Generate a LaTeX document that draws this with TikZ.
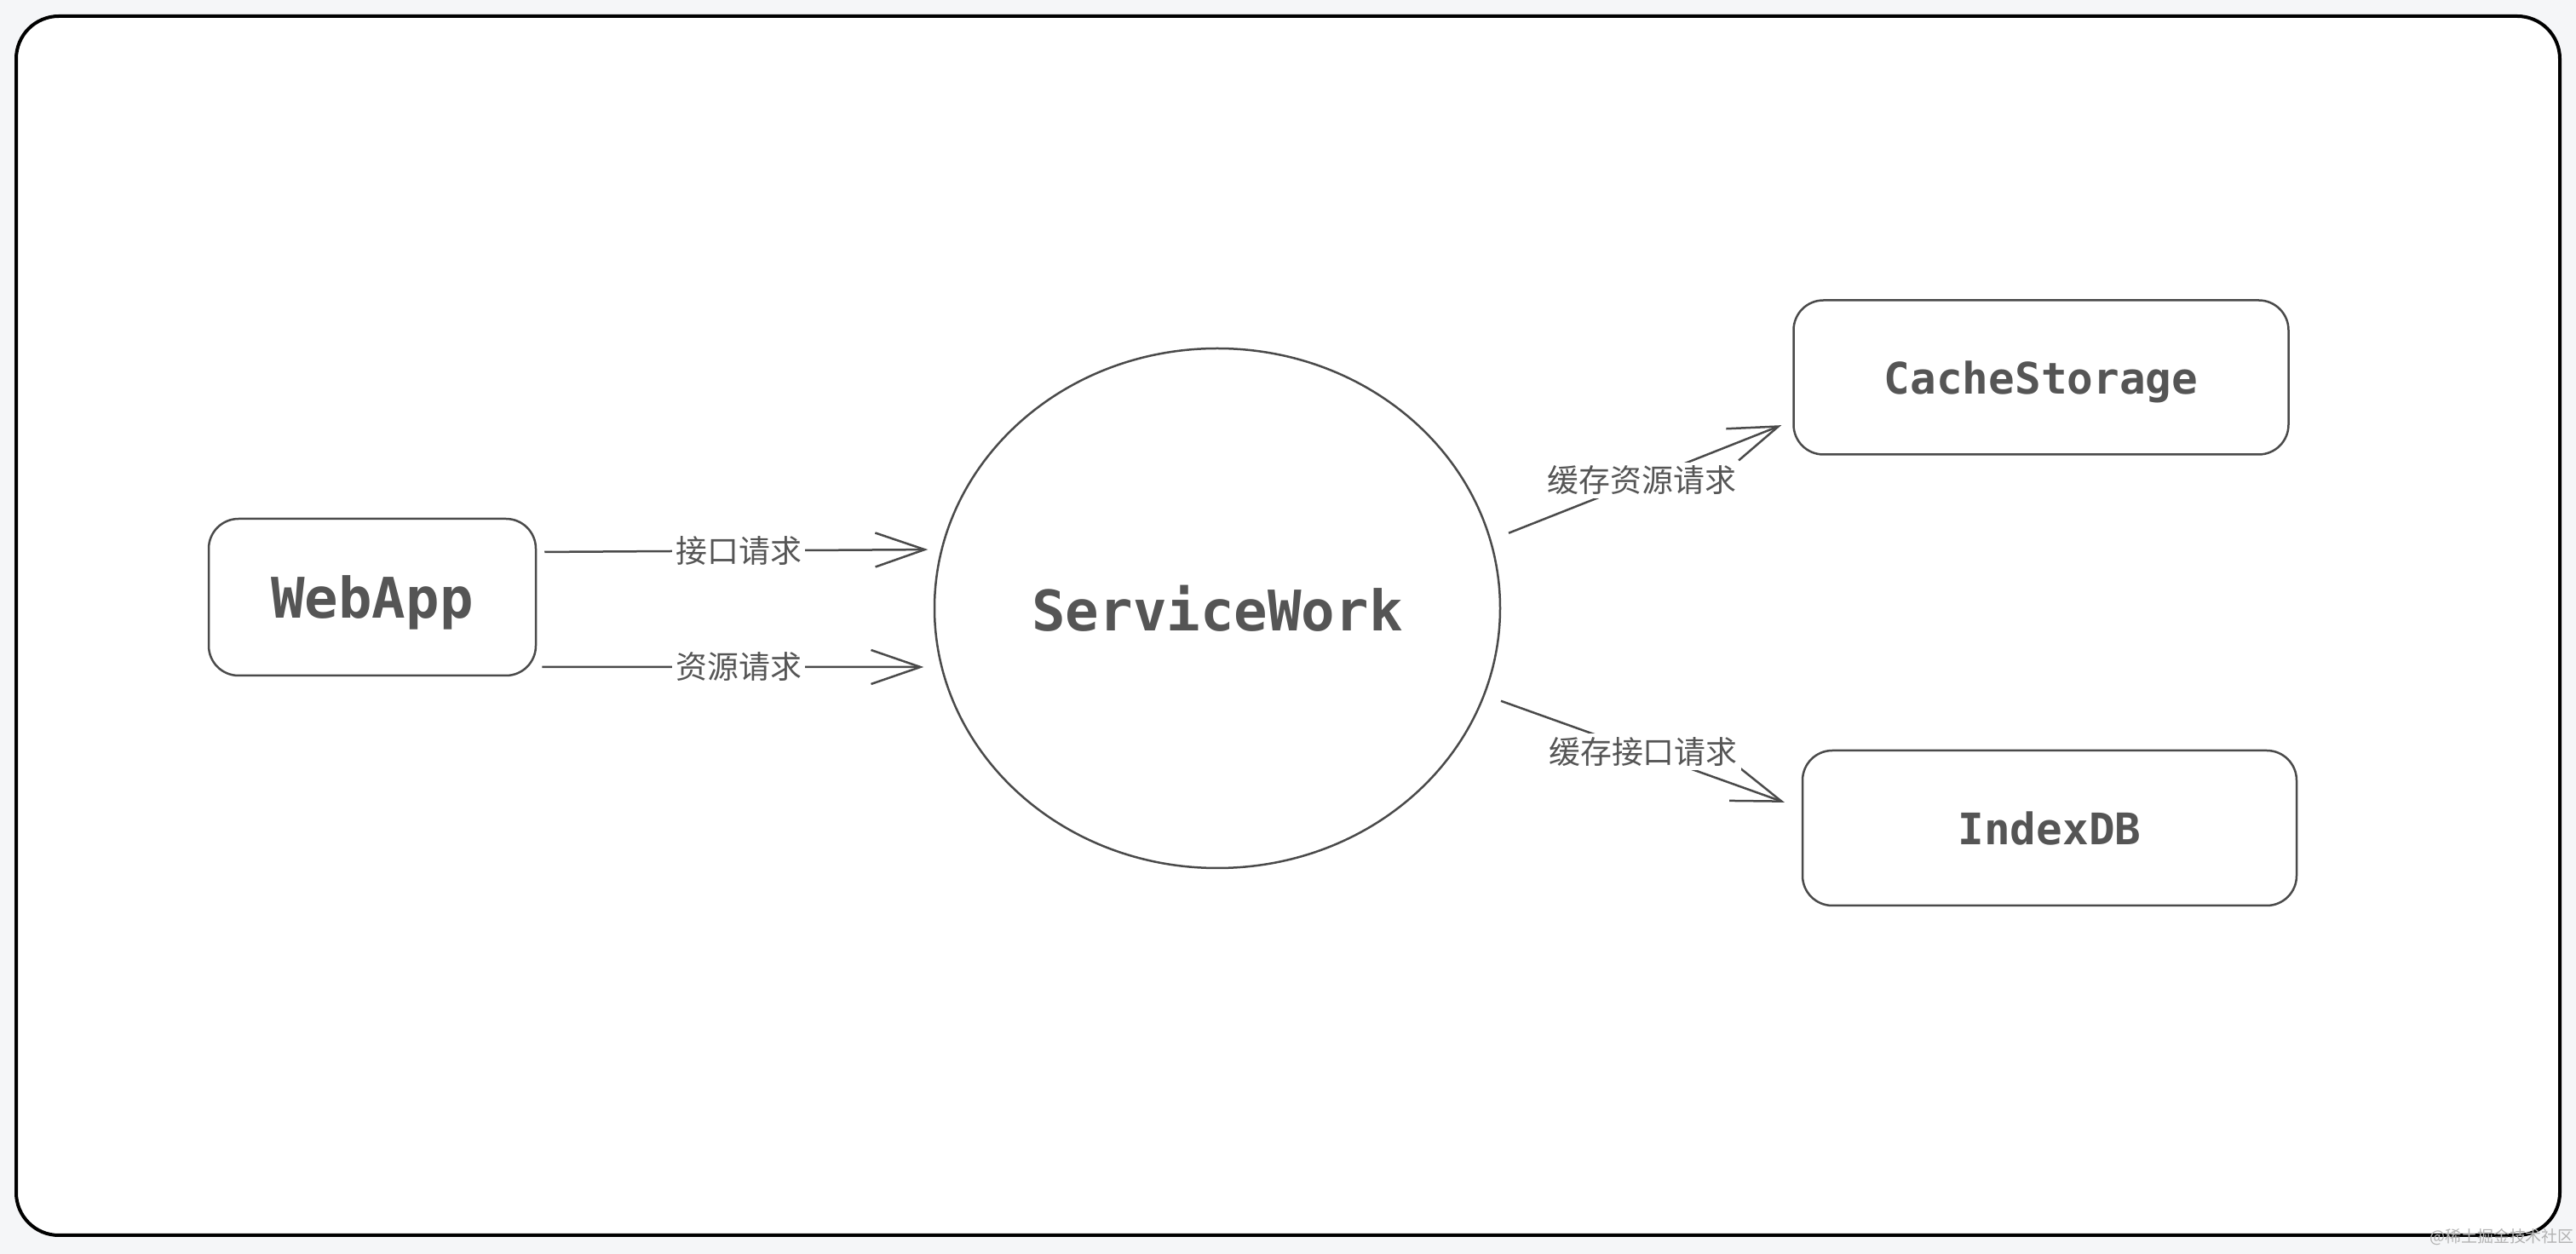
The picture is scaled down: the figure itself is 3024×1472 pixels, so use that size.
\documentclass[tikz,border=0pt]{standalone}
\usepackage{fontspec}
\usetikzlibrary{arrows.meta,shapes.geometric}
\newfontfamily\cjk{Noto Sans CJK SC}
\newfontfamily\mono{DejaVu Sans Mono}
\definecolor{ink}{HTML}{4A4A4A}
\definecolor{txt}{HTML}{555555}
\definecolor{paper}{HTML}{F5F6F8}

\begin{document}
\begin{tikzpicture}[
    x = 0.1mm, y = -0.1mm, % one unit per pixel, y going down
    > = {Straight Barb[length=5.8mm,width=4mm]}, % arrow head style
    line width = 0.25mm % line style
    ]

    \tikzset{box/.style={
    draw = ink,
    rounded corners = 3.5mm,
    fill = white,
    text = txt,
    inner sep = 0pt,
    text depth = 0pt,
    font = \mono\bfseries\fontsize{14.5}{17}\selectfont
    }}
    \tikzset{lbl/.style={fill=white, text=txt, inner sep=0.4mm,
    font=\cjk\fontsize{10.5}{12}\selectfont}}
    \tikzset{flow/.style={->, draw=ink}}

    % page and frame
    \fill[paper] (0,0) rectangle (3024,1472);
    \draw[line width=0.4mm, rounded corners=5mm, fill=white] (19,19) rectangle (3005,1450);

    \node[box, minimum width=38.4mm, minimum height=18.4mm,
    font=\mono\bfseries\fontsize{18.7}{22}\selectfont] (webapp) at (437,701) {WebApp};
    \node[ellipse, draw=ink, fill=white, text=txt, inner sep=0pt, text depth=0pt,
    minimum width=66.4mm, minimum height=61mm,
    font=\mono\bfseries\fontsize{18.7}{22}\selectfont] (sw) at (1429,714) {ServiceWork};
    \node[box, minimum width=58.1mm, minimum height=18.1mm] (cache) at (2396,443) {CacheStorage};
    \node[box, minimum width=58mm, minimum height=18.2mm] (index) at (2406,972) {IndexDB};

    \draw[flow, shorten <=0.9mm, shorten >=1.5mm] ([yshift=5.3mm]webapp.east) -- node[lbl]{接口请求} (sw.168.5);
    \draw[flow, shorten <=0.6mm, shorten >=2mm] ([yshift=-8.2mm]webapp.east) -- node[lbl]{资源请求} (sw.192);
    \draw[flow, shorten <=2.2mm, shorten >=1.4mm] (sw.14) -- node[lbl]{缓存资源请求} ([yshift=-5.1mm]cache.west);
    \draw[flow, shorten <=2mm, shorten >=2.1mm] (sw.-18.5) -- node[lbl]{缓存接口请求} ([yshift=2.3mm]index.west);

    \node[text=black!30, inner sep=0pt, font=\cjk\fontsize{5.4}{6}\selectfont] (mark) at (2937,1452) {@稀土掘金技术社区};
\end{tikzpicture}
\end{document}
